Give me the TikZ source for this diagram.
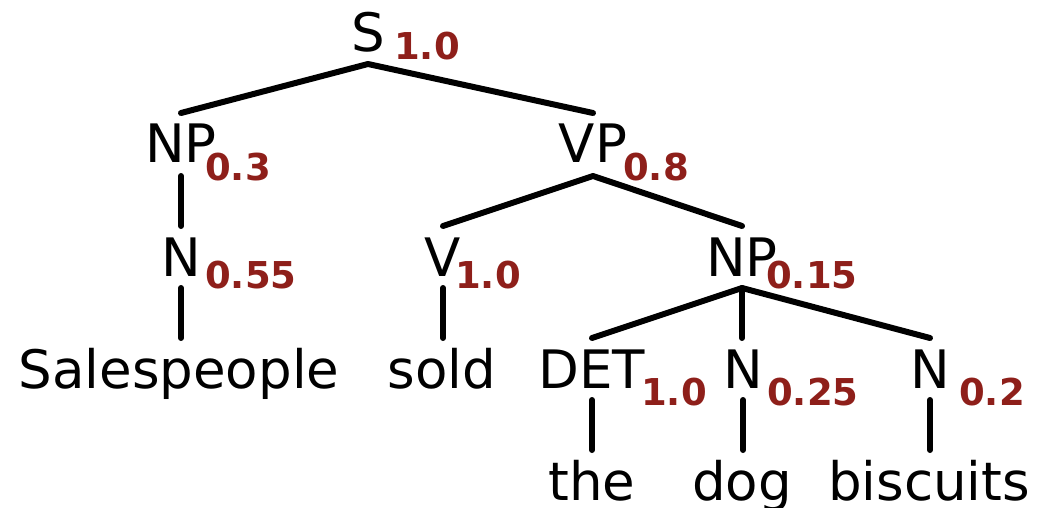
\documentclass[tikz,border=0pt]{standalone}
\usepackage{fontspec}
\setmainfont{DejaVu Sans}
\definecolor{probred}{RGB}{142,31,26}
\begin{document}
\begin{tikzpicture}[x=1pt,y=-1pt,
  lab/.style={anchor=base,inner sep=0pt,font=\fontsize{53}{60}\selectfont},
  prob/.style={anchor=base west,inner sep=0pt,text=probred,font=\fontsize{37}{42}\selectfont\bfseries},
  edge/.style={line width=6pt,line cap=round,line join=round}]
\useasboundingbox (0,0) rectangle (1047,508);
% nodes
\node[lab] (S) at (368,52) {S};
\node[prob] (pS) at (394,60) {1.0};
\node[lab] (NP1) at (181,163) {NP};
\node[prob] (pNP1) at (205,180) {0.3};
\node[lab] (VP) at (593,163) {VP};
\node[prob] (pVP) at (623,180) {0.8};
\node[lab] (N1) at (181,276) {N};
\node[prob] (pN1) at (205,288) {0.55};
\node[lab] (V) at (443,276) {V};
\node[prob] (pV) at (455,288) {1.0};
\node[lab] (NP2) at (742,276) {NP};
\node[prob] (pNP2) at (766,288) {0.15};
\node[lab] (w1) at (179,388) {Salespeople};
\node[lab] (w2) at (442,388) {sold};
\node[lab] (DET) at (592,388) {DET};
\node[prob] (pDET) at (641,405) {1.0};
\node[lab] (N2) at (743,388) {N};
\node[prob] (pN2) at (767,405) {0.25};
\node[lab] (N3) at (930,388) {N};
\node[prob] (pN3) at (959,405) {0.2};
\node[lab] (w3) at (592,500) {the};
\node[lab] (w4) at (742,500) {dog};
\node[lab] (w5) at (929,500) {biscuits};
% edges
\draw[edge] ([yshift=50pt]NP1.base) -- ([yshift=-12pt]S.base) -- ([yshift=50pt]VP.base);
\draw[edge] ([yshift=-13pt]NP1.base) -- ([yshift=50pt]N1.base);
\draw[edge] ([yshift=50pt]V.base) -- ([yshift=-13pt]VP.base) -- ([yshift=50pt]NP2.base);
\draw[edge] ([yshift=-12pt]N1.base) -- ([yshift=50pt]w1.base -| N1.base);
\draw[edge] ([yshift=-12pt]V.base) -- ([yshift=50pt]w2.base -| V.base);
\draw[edge] ([yshift=50pt]DET.base) -- ([yshift=-12pt]NP2.base) -- ([yshift=50pt]N3.base);
\draw[edge] ([yshift=-12pt]NP2.base) -- ([yshift=50pt]N2.base -| NP2.base);
\draw[edge] ([yshift=-12pt]DET.base) -- ([yshift=50pt]w3.base);
\draw[edge] ([yshift=-12pt]N2.base) -- ([yshift=50pt]w4.base -| N2.base);
\draw[edge] ([yshift=-12pt]N3.base) -- ([yshift=50pt]w5.base -| N3.base);
\end{tikzpicture}
\end{document}
